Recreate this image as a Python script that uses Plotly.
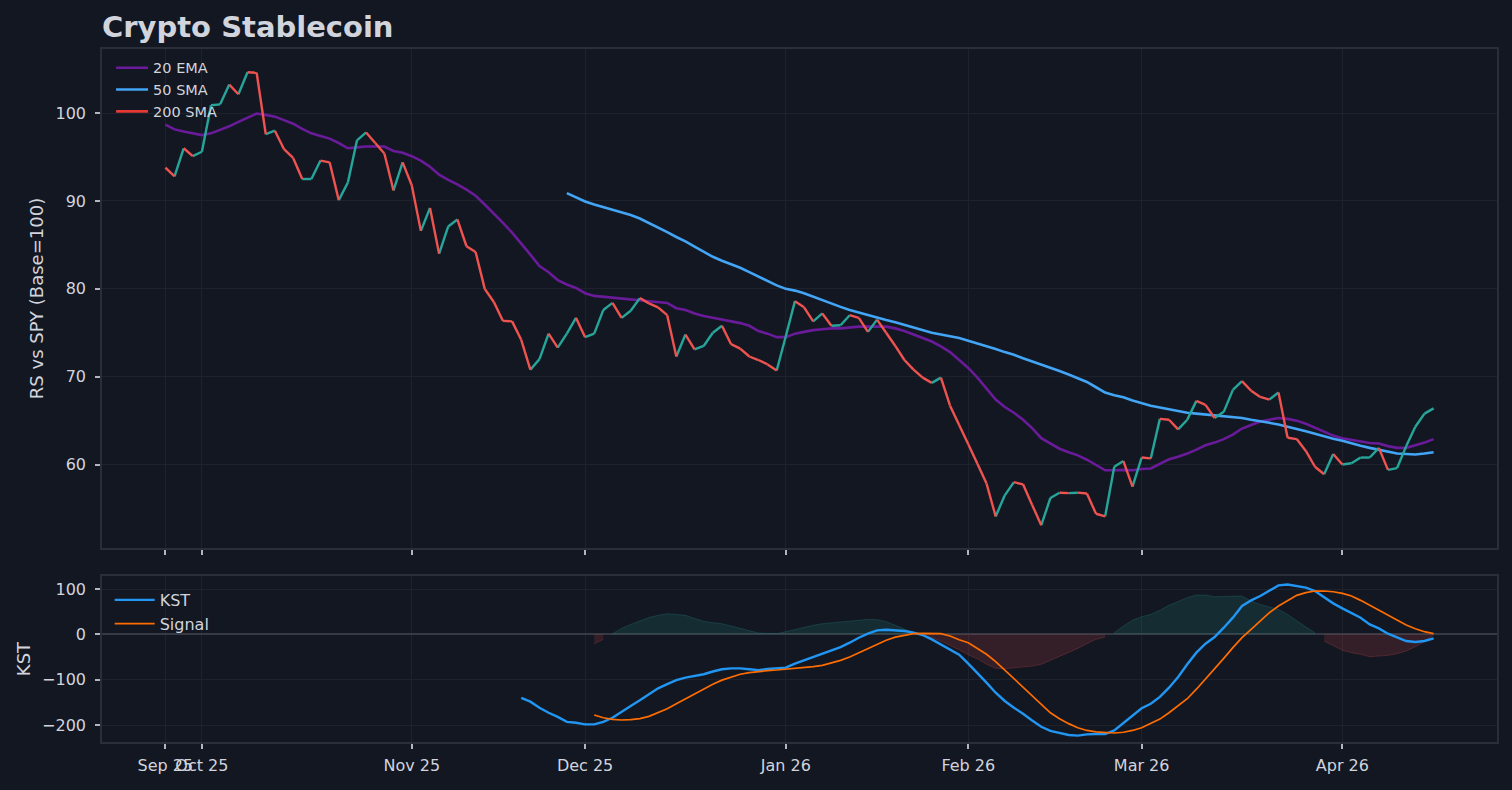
import pandas as pd
import plotly.graph_objects as go
from plotly.subplots import make_subplots

# ---------------- data ----------------
market_holidays = ["2025-11-27", "2025-12-25", "2026-01-01", "2026-01-19", "2026-02-16", "2026-04-03"]
dates = [d.strftime("%Y-%m-%d") for d in
         pd.bdate_range("2025-09-25", "2026-04-16", freq="C", holidays=market_holidays)]

tick_labels = ["Sep 25", "Oct 25", "Nov 25", "Dec 25", "Jan 26", "Feb 26", "Mar 26", "Apr 26"]

rs = [93.8, 92.8, 96.0, 95.1, 95.6, 100.9, 101.0, 103.25, 102.15, 104.65,
      104.6, 97.6, 98.0, 95.9, 94.9, 92.5, 92.5, 94.6, 94.4, 90.1,
      92.1, 96.9, 97.8, 96.6, 95.4, 91.2, 94.4, 91.8, 86.6, 89.2,
      84.0, 87.1, 87.9, 84.85, 84.2, 80.0, 78.5, 76.35, 76.3, 74.2,
      70.8, 72.0, 74.9, 73.3, 74.9, 76.7, 74.5, 74.9, 77.6, 78.4,
      76.7, 77.5, 78.95, 78.35, 77.9, 77.0, 72.3, 74.8, 73.1, 73.5,
      75.0, 75.8, 73.7, 73.2, 72.3, 71.9, 71.4, 70.7, 74.6, 78.6,
      77.9, 76.3, 77.2, 75.8, 75.85, 77.0, 76.7, 75.1, 76.5, 75.0,
      73.5, 71.9, 70.8, 69.9, 69.3, 69.9, 66.7, 64.5, 62.3, 60.1,
      57.85, 54.1, 56.5, 58.0, 57.75, 55.4, 53.1, 56.2, 56.8, 56.75,
      56.8, 56.7, 54.4, 54.1, 59.75, 60.4, 57.5, 60.8, 60.7, 65.2,
      65.1, 64.0, 65.1, 67.25, 66.8, 65.3, 66.0, 68.5, 69.5, 68.4,
      67.7, 67.4, 68.2, 63.05, 62.9, 61.55, 59.75, 58.9, 61.2, 60.0,
      60.15, 60.8, 60.8, 61.9, 59.4, 59.6, 62.1, 64.3, 65.8, 66.4]

ema20 = [98.7, 98.15, 97.9, 97.7, 97.5, 97.7, 98.1, 98.5, 99.0, 99.5,
         99.95, 99.8, 99.6, 99.2, 98.8, 98.2, 97.7, 97.4, 97.1, 96.6,
         96.0, 96.1, 96.2, 96.2, 96.2, 95.7, 95.5, 95.1, 94.6, 93.9,
         93.0, 92.4, 91.9, 91.3, 90.6, 89.6, 88.6, 87.5, 86.4, 85.2,
         83.9, 82.6, 81.9, 81.0, 80.5, 80.1, 79.5, 79.2, 79.1, 79.0,
         78.9, 78.75, 78.7, 78.6, 78.5, 78.4, 77.8, 77.6, 77.2, 76.9,
         76.7, 76.5, 76.3, 76.1, 75.8, 75.2, 74.9, 74.5, 74.5, 74.9,
         75.1, 75.3, 75.4, 75.5, 75.5, 75.6, 75.7, 75.7, 75.7, 75.7,
         75.5, 75.2, 74.8, 74.4, 74.0, 73.45, 72.8, 71.9, 71.0, 69.9,
         68.7, 67.4, 66.55, 65.9, 65.1, 64.15, 63.0, 62.4, 61.8, 61.4,
         61.05, 60.55, 59.9, 59.35, 59.35, 59.4, 59.35, 59.5, 59.55, 60.1,
         60.6, 60.9, 61.25, 61.7, 62.2, 62.5, 62.9, 63.4, 64.1, 64.5,
         64.9, 65.1, 65.3, 65.2, 65.0, 64.65, 64.2, 63.7, 63.3, 63.0,
         62.8, 62.6, 62.45, 62.4, 62.1, 61.9, 61.9, 62.2, 62.5, 62.9]

sma50 = [None] * 44 + [
    90.9, 90.4, 89.95, 89.6, 89.3, 89.0, 88.7, 88.4, 88.0, 87.5,
    86.95, 86.45, 85.9, 85.4, 84.8, 84.2, 83.65, 83.2, 82.8, 82.4,
    81.9, 81.4, 80.9, 80.4, 80.0, 79.8, 79.5, 79.1, 78.7, 78.3,
    77.95, 77.6, 77.3, 77.0, 76.7, 76.45, 76.2, 75.9, 75.6, 75.3,
    75.0, 74.8, 74.6, 74.4, 74.1, 73.8, 73.5, 73.15, 72.8, 72.5,
    72.1, 71.75, 71.4, 71.05, 70.65, 70.25, 69.8, 69.4, 68.8, 68.2,
    67.9, 67.65, 67.3, 67.0, 66.7, 66.5, 66.3, 66.1, 65.9, 65.8,
    65.7, 65.55, 65.45, 65.4, 65.3, 65.1, 64.95, 64.75, 64.55, 64.3,
    64.1, 63.8, 63.5, 63.2, 62.95, 62.7, 62.4, 62.15, 61.9, 61.7,
    61.45, 61.25, 61.2, 61.15, 61.25, 61.4]

sma200 = [None]  # not enough history: legend entry only

kst = [None] * 39 + [
    -140, -148.5, -162, -173, -182, -193, -195, -198.5, -198.5, -193,
    -184, -170.5, -158, -145.6, -132, -119, -110, -101, -95.6, -92,
    -88, -82, -77, -75, -75, -77, -79, -76.5, -75.7, -73.5,
    -64.7, -57.4, -50, -42.6, -36.8, -28, -18.4, -7.4, 1.5, 8.8,
    10.3, 9.6, 7.4, 3.7, -1.5, -11, -22, -34.6, -45, -64.7,
    -84.6, -106.6, -128.7, -147, -162, -175, -190, -204, -213, -218,
    -222, -223.5, -220.6, -220, -220, -212, -195, -178.7, -163, -153,
    -138, -117.6, -94, -66, -40.4, -20.6, -6, 14.7, 36.8, 62.5,
    75, 84.6, 95.6, 108, 110, 106.6, 103, 95.6, 81, 68.4,
    57.4, 47.8, 36.8, 22, 13.2, 1.5, -7.4, -14.7, -17, -14.7,
    -8.8]

signal = [None] * 47 + [
    -178, -184, -187.5, -189, -188, -186, -181, -173, -164, -153,
    -142, -131, -120, -110, -101, -94, -88, -84.6, -82, -80,
    -78.7, -77, -75, -73.5, -71.3, -68.4, -63, -57.4, -50, -41,
    -31.6, -22, -13, -6, -1.5, 1.5, 2.2, 2.2, 1.5, -3.7,
    -12, -18.4, -31, -44, -60, -78.7, -97, -116, -136, -154,
    -173, -186, -197, -206, -212, -215, -217, -217.6, -216, -212,
    -206, -197, -187, -173, -158, -142, -121, -99, -77, -53,
    -29.4, -7.4, 11, 29.4, 47.8, 62.5, 75, 86, 92, 95.6,
    95.6, 94, 90.4, 84.6, 75, 64, 53, 42, 31, 20.6,
    12.5, 5.9, 1.5]

hist = [None] * 47 + [
    -20.6, -11, 1.5, 13, 22, 29, 37, 42, 45.6, 44,
    42, 35, 29, 25.7, 23.5, 18.4, 13, 7.4, 3, 2.2,
    1.5, 5.9, 11, 16, 20, 23.5, 25.7, 28, 29.4, 31.6,
    33, 32.4, 28, 20, 11, 3.7, -2, -7.4, -14.7, -23.5,
    -34, -45, -54, -66, -75, -75.7, -73.5, -71.3, -70, -66,
    -57.4, -49.3, -40.4, -31, -20.6, -11, -5.9, 3.7, 18.4, 31,
    39, 44, 53, 64, 72, 81, 86.8, 86.8, 83, 83,
    83, 84.6, 73.5, 66, 60.3, 55, 44, 29.4, 16, 3.7,
    -14.7, -25.7, -35.3, -40.4, -44, -49.3, -47.8, -46.3, -42.6, -36.8,
    -27.2, -16, -1]

# ---------------- style ----------------
BG = "#131722"
TXT = "#d1d4dc"
GRID = "#1e222d"
SPINE = "#2a2e39"
FONT = "DejaVu Sans"
UP, DOWN = "#26a69a", "#ef5350"

fig = make_subplots(rows=2, cols=1, shared_xaxes=True)

# moving averages
fig.add_trace(go.Scatter(x=dates, y=ema20, mode="lines", name="20 EMA",
                         line=dict(color="#6a1b9a", width=2.6), legend="legend"), row=1, col=1)
fig.add_trace(go.Scatter(x=dates, y=sma50, mode="lines", name="50 SMA",
                         line=dict(color="#42a5f5", width=2.6), legend="legend"), row=1, col=1)
fig.add_trace(go.Scatter(x=dates[:len(sma200)], y=sma200, mode="lines", name="200 SMA",
                         line=dict(color="#e53935", width=2.6), legend="legend"), row=1, col=1)

# RS line coloured by direction
up_x, up_y, dn_x, dn_y = [], [], [], []
for i in range(1, len(rs)):
    if rs[i] >= rs[i - 1]:
        up_x += [dates[i - 1], dates[i], dates[i]]
        up_y += [rs[i - 1], rs[i], None]
    else:
        dn_x += [dates[i - 1], dates[i], dates[i]]
        dn_y += [rs[i - 1], rs[i], None]
fig.add_trace(go.Scatter(x=up_x, y=up_y, mode="lines", showlegend=False, connectgaps=False,
                         line=dict(color=UP, width=2.4)), row=1, col=1)
fig.add_trace(go.Scatter(x=dn_x, y=dn_y, mode="lines", showlegend=False, connectgaps=False,
                         line=dict(color=DOWN, width=2.4)), row=1, col=1)

# KST histogram: one filled area per run of equal sign
runs = []
cur = None
for i, h in enumerate(hist):
    if h is None:
        cur = None
        continue
    sign = h >= 0
    if cur is None or cur[0] != sign:
        cur = [sign, []]
        runs.append(cur)
    cur[1].append(i)
for sign, idx in runs:
    col = "38,166,154" if sign else "239,83,80"
    fig.add_trace(go.Scatter(x=[dates[i] for i in idx], y=[hist[i] for i in idx],
                             mode="lines", fill="tozeroy", showlegend=False,
                             fillcolor=f"rgba({col},0.15)",
                             line=dict(color=f"rgba({col},0.22)", width=1)), row=2, col=1)

fig.add_trace(go.Scatter(x=dates, y=kst, mode="lines", name="KST",
                         line=dict(color="#2196f3", width=2.4), legend="legend2"), row=2, col=1)
fig.add_trace(go.Scatter(x=dates, y=signal, mode="lines", name="Signal",
                         line=dict(color="#ff6d00", width=1.7), legend="legend2"), row=2, col=1)

# month ticks: first trading day of each month
tick_vals = []
seen = set()
for d in dates:
    if d[:7] not in seen:
        seen.add(d[:7])
        tick_vals.append(d)

n = len(dates)
pad = 0.05 * (n - 1)
xcommon = dict(type="category", categoryorder="array", categoryarray=dates,
               range=[-pad, n - 1 + pad], tickmode="array", tickvals=tick_vals,
               ticktext=tick_labels, tickangle=0, showgrid=True, gridcolor=GRID, gridwidth=1,
               ticks="outside", ticklen=5, tickwidth=1.5, tickcolor="#b2b5be",
               showline=True, mirror=True, linecolor=SPINE, linewidth=1.5,
               tickfont=dict(family=FONT, size=16, color=TXT), zeroline=False)
ycommon = dict(showgrid=True, gridcolor=GRID, gridwidth=1, ticks="outside", ticklen=5,
               tickwidth=1.5, tickcolor="#b2b5be", showline=True, mirror=True,
               linecolor=SPINE, linewidth=1.5, ticklabelstandoff=6,
               tickfont=dict(family=FONT, size=16, color=TXT))

fig.update_xaxes(**xcommon)
fig.update_xaxes(showticklabels=False, row=1, col=1)
fig.update_xaxes(ticklabelstandoff=3, row=2, col=1)

fig.update_yaxes(**ycommon)
fig.update_yaxes(domain=[0.2799, 1.0], range=[50.5, 107.3], dtick=10, zeroline=False,
                 title=dict(text="RS vs SPY (Base=100)", standoff=7,
                            font=dict(family=FONT, size=18, color=TXT)), row=1, col=1)
fig.update_yaxes(domain=[0.0, 0.2395], range=[-237.5, 128.7], dtick=100,
                 zeroline=True, zerolinecolor="#363a45", zerolinewidth=2,
                 title=dict(text="KST", standoff=7,
                            font=dict(family=FONT, size=18, color=TXT)), row=2, col=1)

fig.update_layout(
    width=1512, height=790,
    paper_bgcolor=BG, plot_bgcolor=BG,
    margin=dict(l=102, r=15, t=49, b=48, autoexpand=False),
    font=dict(family=FONT, color=TXT),
    title=dict(text="<b>Crypto Stablecoin</b>", x=0, xref="paper", xanchor="left",
               y=1 - 27 / 790, yref="container", yanchor="middle",
               font=dict(family=FONT, size=29, color=TXT)),
    legend=dict(x=0.0065, y=0.996, xanchor="left", yanchor="top", bgcolor="rgba(0,0,0,0)",
                font=dict(family=FONT, size=14.5, color=TXT), tracegroupgap=0, itemwidth=32),
    legend2=dict(x=0.0055, y=0.2295, xanchor="left", yanchor="top", bgcolor="rgba(0,0,0,0)",
                 font=dict(family=FONT, size=16, color=TXT), tracegroupgap=0, itemwidth=40),
    showlegend=True,
)

fig.write_html("out.html",
               config={"displayModeBar": False},
               post_script="document.body.style.margin='0';"
                           "document.body.style.background='#131722';")
